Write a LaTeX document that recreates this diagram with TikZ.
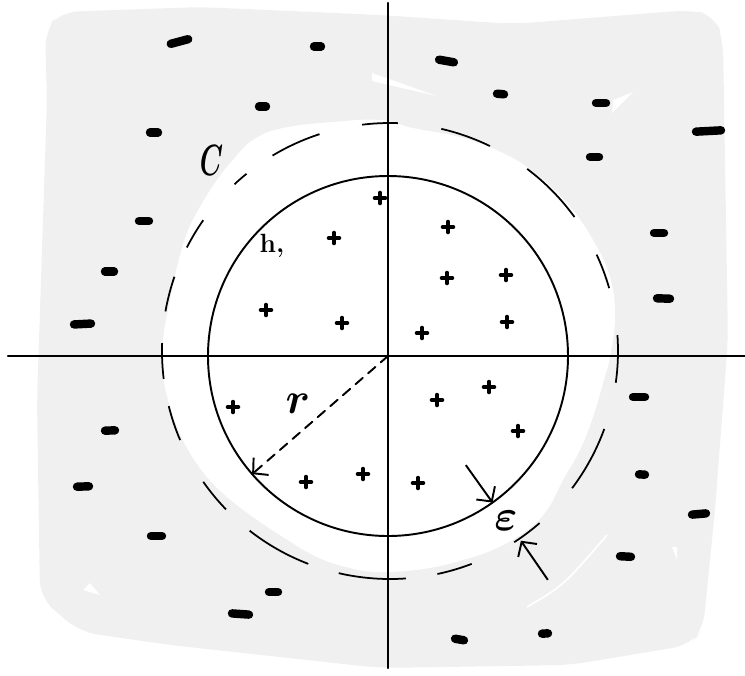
\documentclass[tikz,border=0pt]{standalone}
\usepackage{tkz-euclide}
\usepackage{bm}
\usetikzlibrary{arrows.meta,calc}
\definecolor{sheet}{RGB}{240,240,240}

\tikzset{
  axisline/.style={line width=1.25pt,color=black},
  innerring/.style={line width=1.1pt,color=black},
  outerdash/.style={line width=1pt,color=black},
  minussign/.style={line width=4.8pt,line cap=round,color=black},
  plussign/.style={line width=2pt,line cap=round,color=black},
  radarrow/.style={line width=1.1pt,-{Straight Barb[length=6pt,width=13pt,line width=1.1pt]}},
  handlabel/.style={inner sep=0pt,color=black},
}

\begin{document}
\begin{tikzpicture}
\useasboundingbox (-7.76,-6.38) rectangle (7.14,7.12);

% grey sheet, with the cleared disc round the charge
\fill[sheet,rounded corners=10pt] (-6.86,6.52) -- (-6.56,6.88) -- (-3.76,6.98) -- (-0.16,6.82) -- (2.50,6.64) -- (6.04,6.92) -- (6.54,6.82) -- (6.70,6.32) -- (6.80,0.32) -- (6.54,-3.08) -- (6.30,-5.48) -- (6.04,-5.78) -- (3.64,-6.18) -- (-0.16,-6.24) -- (-4.36,-5.78) -- (-6.16,-5.52) -- (-6.96,-4.84) -- (-7.02,-0.88) -- (-6.82,5.12) -- cycle;
\fill[white] plot[smooth cycle,tension=0.7] coordinates {(-0.16,4.72) (-1.10,4.68) (-2.10,4.56) (-2.70,4.32) (-3.10,3.92) (-3.42,3.52) (-3.76,2.98) (-4.02,2.46) (-4.22,1.78) (-4.36,1.12) (-4.50,0.32) (-4.50,-0.34) (-4.40,-0.88) (-4.22,-1.42) (-3.96,-1.94) (-3.62,-2.42) (-3.22,-2.82) (-2.70,-3.22) (-2.10,-3.62) (-1.42,-4.02) (-0.76,-4.24) (-0.16,-4.32) (0.70,-4.26) (1.50,-4.08) (2.18,-3.84) (2.78,-3.48) (3.18,-3.08) (3.50,-2.48) (3.84,-1.88) (4.10,-1.22) (4.30,-0.54) (4.44,-0.02) (4.54,0.78) (4.44,1.58) (4.10,2.32) (3.58,3.06) (2.98,3.62) (2.38,4.02) (1.50,4.36) (0.50,4.56)};

% brush gaps in the grey
\fill[white] (-0.32,5.66) -- (-0.32,5.50) -- (0.98,5.20) -- cycle;
\fill[white] (4.50,5.12) -- (4.90,5.28) -- (4.48,4.86) -- cycle;
\fill[white] (-6.10,-4.68) -- (-5.96,-4.54) -- (-5.76,-4.78) -- cycle;
\fill[white] (5.68,-3.82) -- (5.78,-3.82) -- (5.78,-4.08) -- cycle;
\draw[white,line width=1pt] (2.78,-5.02) .. controls (3.50,-4.60) .. (4.38,-3.58);

\tkzDefPoints{0/0/O,3.6/0/A,-2.717/-2.362/R,0.04/0.1/D} % centre, circle point, radius end, centre of C
\tkzDefPoints{-7.6/0/W,7.14/0/E,0/7.06/N,0/-6.24/S} % ends of the axes

\tkzDrawSegments[axisline](W,E N,S)
\tkzDrawCircle[innerring](O,A)

% the curve C, one arc per dash
\foreach \s/\e in {88/97,108/121,129/133,145/153,161/170,178/187,194/203,215/224,232/249,257/274,282/291,303/311,323/340,352/364,16/25,36/53,64/77}
  \draw[outerdash] ([shift={(\s:4.56)}]D) arc[start angle=\s,end angle=\e,radius=4.56];

\tkzDrawSegment[radarrow,dash pattern=on 5.5pt off 4pt](O,R)

% the gap epsilon
\coordinate (E0) at (305.5:2.68);
\coordinate (E1) at (305.5:3.6);
\coordinate (F0) at ($(D)+(304.6:5.56)$);
\coordinate (F1) at ($(D)+(304.6:4.61)$);
\draw[radarrow] (E0) -- (E1);
\draw[radarrow] (F0) -- (F1);

% charges outside
\foreach \x/\y/\h/\a in {-4.17/6.29/0.18/15,-1.41/6.19/0.07/0,-2.51/4.99/0.07/0,-4.68/4.47/0.08/0,-4.88/2.70/0.10/0,-5.57/1.69/0.09/0,-6.11/0.64/0.17/3,1.17/5.90/0.15/-10,2.25/5.24/0.07/-5,4.26/5.06/0.10/0,6.41/4.50/0.25/3,4.13/3.98/0.09/0,5.42/2.46/0.10/0,5.51/1.15/0.13/-2,-5.56/-1.49/0.10/2,-6.10/-2.61/0.12/2,-4.63/-3.60/0.11/0,-2.29/-4.72/0.09/0,-2.95/-5.16/0.17/-4,5.02/-0.82/0.12/0,5.08/-2.37/0.06/-3,6.22/-3.16/0.14/5,4.75/-4.01/0.11/-3,1.43/-5.67/0.09/-10,3.14/-5.55/0.06/4}
  \draw[minussign] (\x,\y) ++(\a:\h) -- ++({\a+180}:{2*\h});

% charges inside
\foreach \x/\y in {-0.16/3.16,-1.08/2.36,-2.44/0.92,-0.92/0.66,1.20/2.58,1.18/1.56,2.36/1.62,0.68/0.46,2.38/0.68,-3.10/-1.02,-1.64/-2.52,-0.50/-2.36,0.98/-0.88,2.02/-0.62,2.60/-1.50,0.60/-2.54}
  \draw[plussign] (\x,\y) ++(-0.11,0) -- ++(0.22,0) (\x,\y) ++(0,-0.11) -- ++(0,0.22);

\node[handlabel,font=\fontsize{32}{32}\selectfont] (lblC) at (-3.53,3.92) {\scalebox{0.6}[1]{$\bm{C}$}};
\node[handlabel,font=\fontsize{15}{15}\selectfont\bfseries] (lblH) at (-2.32,2.20) {h,};
\node[handlabel,font=\fontsize{30}{30}\selectfont] (lblR) at (-1.80,-0.96) {$\bm{r}$};
\node[handlabel,font=\fontsize{28}{28}\selectfont] (lblEps) at (2.36,-3.30) {$\bm{\varepsilon}$};
\end{tikzpicture}
\end{document}
